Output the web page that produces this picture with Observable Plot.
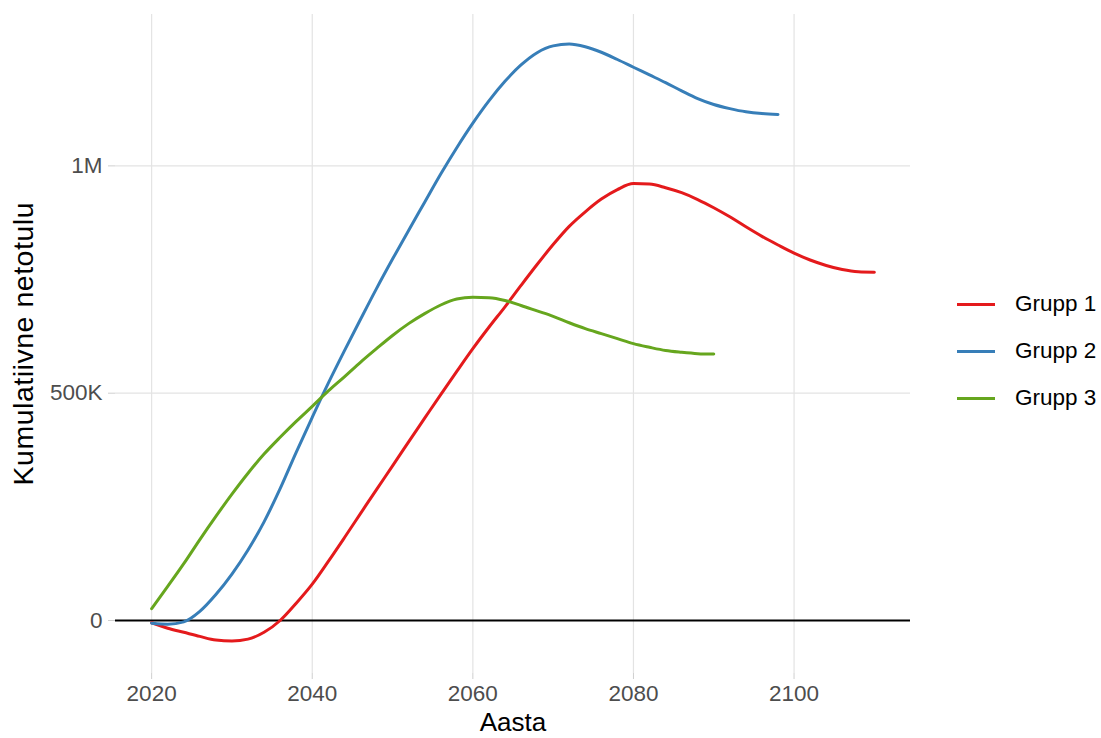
<!DOCTYPE html>
<html>
<head>
<meta charset="utf-8">
<script src="https://cdn.jsdelivr.net/npm/d3@7"></script>
<script src="https://cdn.jsdelivr.net/npm/@observablehq/plot@0.6"></script>
<style>
  html, body { margin: 0; padding: 0; background: #ffffff; }
  #wrap { position: relative; width: 1101px; height: 738px; font-family: "Liberation Sans", Arial, sans-serif; }
  #legend { position: absolute; left: 957px; top: 280px; }
  .item { position: absolute; left: 0; height: 48px; display: flex; align-items: center; white-space: nowrap; }
  .key { width: 38px; height: 0; border-top: 3px solid; margin-right: 20px; }
  .lab { font-size: 22.5px; color: #000; }
</style>
</head>
<body>
<div id="wrap"></div>
<script>
const years = [2020,2022,2024,2026,2028,2030,2032,2034,2036,2038,2040,2042,2044,2046,2048,2050,2052,2054,2056,2058,2060,2062,2064,2066,2068,2070,2072,2074,2076,2078,2080,2082,2084,2086,2088,2090,2092,2094,2096,2098,2100,2102,2104,2106,2108,2110];

const groups = ["Grupp 1", "Grupp 2", "Grupp 3"];
const colors = ["#E41A1C", "#377EB8", "#66A61E"];

const grupp1 = [-5000,-17000,-26000,-35000,-43000,-45000,-41000,-26000,0,38000,80000,130000,182000,235000,288000,340000,393000,445000,497000,548000,598000,645000,690000,737000,783000,827000,867000,899000,927000,948000,961000,960000,952000,941000,926000,908000,888000,866000,845000,826000,808000,793000,781000,772000,767000,766000];
const grupp2 = [-6000,-8000,-3000,20000,57000,102000,155000,217000,290000,370000,447000,522000,593000,662000,730000,795000,858000,920000,982000,1040000,1094000,1143000,1186000,1222000,1249000,1264000,1268000,1262000,1250000,1234000,1217000,1200000,1183000,1165000,1148000,1135000,1126000,1119000,1115000,1113000];
const grupp3 = [26000,75000,125000,178000,229000,278000,324000,366000,403000,438000,471000,505000,536000,568000,598000,627000,653000,675000,694000,707000,711000,710000,704000,693000,681000,669000,655000,642000,631000,620000,609000,601000,594000,590000,587000,586000];

const xTicks = [2020, 2040, 2060, 2080, 2100];
const yTicks = [0, 500000, 1000000];
const yTickLabels = ["0", "500K", "1M"];

const xTitle = "Aasta";
const yTitle = "Kumulatiivne netotulu";

const rows = [];
[grupp1, grupp2, grupp3].forEach((vals, gi) => {
  vals.forEach((v, i) => rows.push({group: groups[gi], year: years[i], value: v}));
});

const font = "Liberation Sans, Arial, sans-serif";

const chart = Plot.plot({
  width: 1101,
  height: 738,
  marginLeft: 115,
  marginRight: 191,
  marginTop: 14,
  marginBottom: 65,
  style: {fontFamily: font, background: "#ffffff"},
  x: {domain: [2015.5, 2114.5], ticks: xTicks},
  y: {domain: [-116600, 1333000], ticks: yTicks},
  color: {domain: groups, range: colors},
  marks: [
    Plot.gridX(xTicks, {stroke: "#e3e3e3", strokeOpacity: 1, strokeWidth: 1.2}),
    Plot.gridY(yTicks, {stroke: "#e3e3e3", strokeOpacity: 1, strokeWidth: 1.2}),
    Plot.axisX(xTicks, {
      tickSize: 6, tickPadding: 6, fontSize: 22.5, fill: "#4d4d4d", stroke: "#cfcfcf",
      tickFormat: d => String(d), label: null
    }),
    Plot.axisY(yTicks, {
      tickSize: 7, tickPadding: 6, fontSize: 22.5, fill: "#4d4d4d", stroke: "#cfcfcf",
      tickFormat: d => yTickLabels[yTicks.indexOf(d)], label: null
    }),
    Plot.ruleY([0], {stroke: "#000000", strokeWidth: 2}),
    Plot.line(rows, {x: "year", y: "value", z: "group", stroke: "group", strokeWidth: 3, curve: "monotone-x"}),
    Plot.text([xTitle], {frameAnchor: "bottom", dy: 49, fontSize: 26, fill: "#000", lineAnchor: "middle", textAnchor: "middle", text: d => d}),
    Plot.text([yTitle], {frameAnchor: "left", dx: -92, rotate: -90, fontSize: 28.5, fill: "#000", lineAnchor: "middle", textAnchor: "middle", text: d => d})
  ]
});

d3.select(chart).selectAll("text").each(function() {
  const t = d3.select(this);
  if (t.text() === yTitle) t.attr("textLength", 283).attr("lengthAdjust", "spacing");
});

const wrap = document.getElementById("wrap");
wrap.appendChild(chart);

const legend = document.createElement("div");
legend.id = "legend";
groups.forEach((g, i) => {
  const item = document.createElement("div");
  item.className = "item";
  item.style.top = (i * 47) + "px";
  const key = document.createElement("div");
  key.className = "key";
  key.style.borderTopColor = colors[i];
  const lab = document.createElement("span");
  lab.className = "lab";
  lab.textContent = g;
  item.appendChild(key);
  item.appendChild(lab);
  legend.appendChild(item);
});
wrap.appendChild(legend);
</script>
</body>
</html>
